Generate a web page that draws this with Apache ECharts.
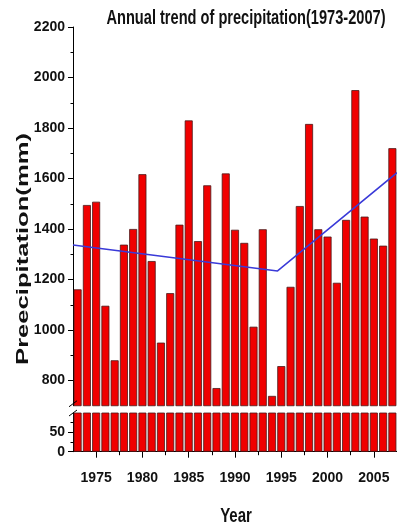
<!DOCTYPE html>
<html><head><meta charset="utf-8">
<script src="https://cdn.jsdelivr.net/npm/echarts@6/dist/echarts.min.js"></script>
<style>html,body{margin:0;padding:0;background:#fff}#c{width:397px;height:531px}</style>
</head><body><div id="c"></div>
<script>
const years = [1973,1974,1975,1976,1977,1978,1979,1980,1981,1982,1983,1984,1985,1986,1987,1988,1989,1990,1991,1992,1993,1994,1995,1996,1997,1998,1999,2000,2001,2002,2003,2004,2005,2006,2007];
const precipitation = [1161,1495,1508,1096,880,1338,1400,1617,1273,950,1146,1417,1830,1352,1573,770,1620,1397,1345,1013,1399,739,857,1171,1491,1816,1399,1370,1187,1436,1950,1449,1362,1334,1720];
const trendYears = [1972.5, 1994.6, 2007.5];
const trendValues = [1337, 1234, 1623];
const xTickLabels = [1975,1980,1985,1990,1995,2000,2005];
const xMinorTicks = [1977.5,1982.5,1987.5,1992.5,1997.5,2002.5];
const yTopLabels = [800,1000,1200,1400,1600,1800,2000,2200];
const yTopMinor = [900,1100,1300,1500,1700,1900,2100];
const yBottomLabels = [0,50];
const yBottomMinor = [25,75];

const SANS = "'Liberation Sans', Arial, sans-serif";
const barData = years.map((y,i)=>[y, precipitation[i]]);
const trendData = trendYears.map((y,i)=>[y, trendValues[i]]);
const X_MIN = 1972.5, X_MAX = 2007.5;
const lbl = {fontFamily: SANS, fontWeight: 'bold', fontSize: 14, color: '#111', formatter: v => String(v)};

const chart = echarts.init(document.getElementById('c'), null, {renderer: 'canvas'});
const barStyle = {color: '#f00000', borderColor: '#4a1a1a', borderWidth: 0.8};
chart.setOption({
  animation: false,
  backgroundColor: '#fff',
  grid: [
    {left: 73, width: 326, top: 27, height: 378.75},
    {left: 73, width: 326, top: 413, height: 38.7}
  ],
  xAxis: [
    {gridIndex: 0, type: 'value', min: X_MIN, max: X_MAX, show: false},
    {gridIndex: 1, type: 'value', min: X_MIN, max: X_MAX, position: 'bottom',
      axisLine: {show: true, lineStyle: {color: '#000', width: 1}},
      axisTick: {show: true, length: 6, customValues: xTickLabels, lineStyle: {color: '#000'}},
      axisLabel: {show: true, customValues: xTickLabels, margin: 19, ...lbl},
      splitLine: {show: false}
    },
    {gridIndex: 1, type: 'value', min: X_MIN, max: X_MAX, position: 'bottom',
      axisLine: {show: false},
      axisTick: {show: true, length: 3.5, customValues: xMinorTicks, lineStyle: {color: '#000'}},
      axisLabel: {show: false}, splitLine: {show: false}
    }
  ],
  yAxis: [
    {gridIndex: 0, type: 'value', min: 700, max: 2200, position: 'left',
      axisLine: {show: true, lineStyle: {color: '#000', width: 1}},
      axisTick: {show: true, length: 5, customValues: yTopLabels, lineStyle: {color: '#000'}},
      axisLabel: {show: true, customValues: yTopLabels, margin: 8, ...lbl},
      splitLine: {show: false}
    },
    {gridIndex: 0, type: 'value', min: 700, max: 2200, position: 'left',
      axisLine: {show: false},
      axisTick: {show: true, length: 2.5, customValues: yTopMinor, lineStyle: {color: '#000'}},
      axisLabel: {show: false}, splitLine: {show: false}
    },
    {gridIndex: 1, type: 'value', min: 0, max: 100, position: 'left',
      axisLine: {show: true, lineStyle: {color: '#000', width: 1}},
      axisTick: {show: true, length: 5, customValues: yBottomLabels, lineStyle: {color: '#000'}},
      axisLabel: {show: true, customValues: yBottomLabels, margin: 8, ...lbl},
      splitLine: {show: false}
    },
    {gridIndex: 1, type: 'value', min: 0, max: 100, position: 'left',
      axisLine: {show: false},
      axisTick: {show: true, length: 2.5, customValues: yBottomMinor, lineStyle: {color: '#000'}},
      axisLabel: {show: false}, splitLine: {show: false}
    }
  ],
  series: [
    {type: 'bar', xAxisIndex: 0, yAxisIndex: 0, data: barData, barWidth: 8, itemStyle: barStyle, clip: true},
    {type: 'bar', xAxisIndex: 1, yAxisIndex: 2, data: barData, barWidth: 8, itemStyle: barStyle, clip: true},
    {type: 'line', xAxisIndex: 0, yAxisIndex: 0, data: trendData, showSymbol: false, symbol: 'none',
      lineStyle: {color: '#3a3ad8', width: 1.5}, z: 5}
  ]
});

const p0 = chart.convertToPixel({gridIndex: 0}, [X_MIN, 700]);
const p1 = chart.convertToPixel({gridIndex: 1}, [X_MIN, 100]);
function txt(text, x, y, size, sx, rot) {
  return {type: 'text', x: x, y: y, rotation: rot || 0, scaleX: sx, z: 100,
    style: {text: text, x: 0, y: 0, align: 'center', verticalAlign: 'middle', textAlign: 'center', textVerticalAlign: 'middle',
      font: "bold " + size + "px 'Liberation Sans', Arial, sans-serif", fill: '#111'}};
}
chart.setOption({
  graphic: [
    {type: 'line', shape: {x1: p0[0]-4, y1: p0[1]+1, x2: p0[0]+4, y2: p0[1]-5}, style: {stroke: '#000', lineWidth: 1}, z: 100},
    {type: 'line', shape: {x1: p1[0]-4, y1: p1[1]+3, x2: p1[0]+4, y2: p1[1]-3}, style: {stroke: '#000', lineWidth: 1}, z: 100},
    txt('Annual trend of precipitation(1973-2007)', 246, 18, 20, 0.73, 0),
    txt('Year', 236, 516, 20, 0.75, 0),
    txt('Preecipitation(mm)', 23.5, 249, 16, 1.6, Math.PI/2)
  ]
});
</script>
</body></html>
